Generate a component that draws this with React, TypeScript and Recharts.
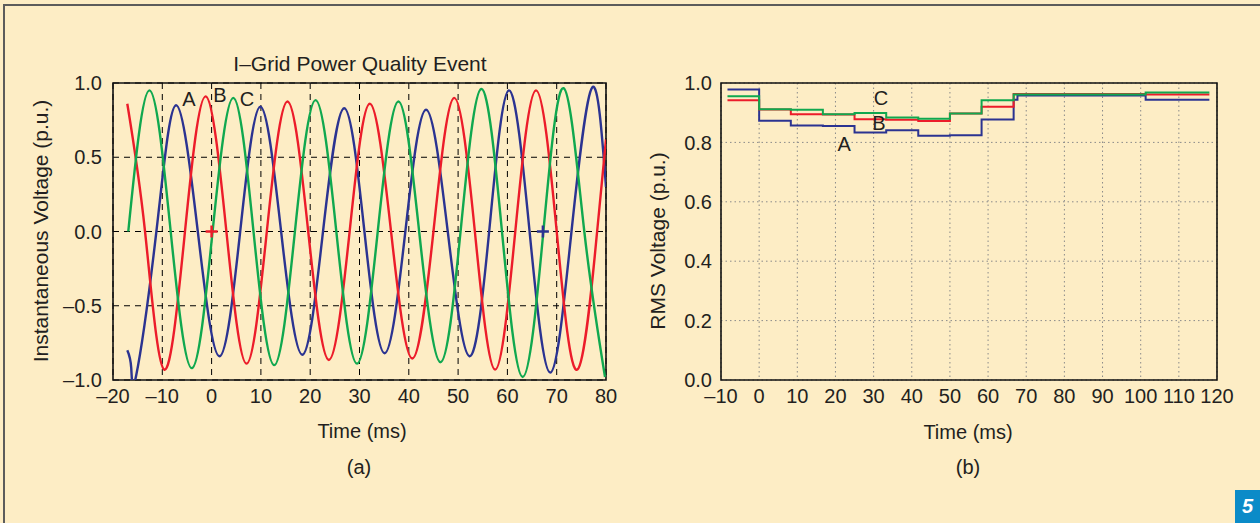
import React from 'react';
import {
  ComposedChart,
  LineChart,
  Line,
  XAxis,
  YAxis,
  CartesianGrid,
  ReferenceArea,
  ReferenceDot,
} from 'recharts';

// ---------- Panel (a): instantaneous voltage, read at peaks / zero crossings / troughs ----------
const phaseA_inst = [
  { t: -17.1, v: -0.8 }, { t: -16.3, v: -0.92 }, { t: -15.3, v: -0.97 }, { t: -11.2, v: 0 },
  { t: -7.2, v: 0.85 }, { t: -2.8, v: 0 }, { t: 1.6, v: -0.84 }, { t: 5.8, v: 0 },
  { t: 9.9, v: 0.84 }, { t: 14.1, v: 0 }, { t: 18.4, v: -0.83 }, { t: 22.6, v: 0 },
  { t: 26.9, v: 0.83 }, { t: 31.0, v: 0 }, { t: 35.1, v: -0.82 }, { t: 39.3, v: 0 },
  { t: 43.5, v: 0.82 }, { t: 47.9, v: 0 }, { t: 52.3, v: -0.84 }, { t: 56.3, v: 0 },
  { t: 60.3, v: 0.95 }, { t: 64.5, v: 0 }, { t: 68.7, v: -0.95 }, { t: 73.0, v: 0 },
  { t: 77.2, v: 0.97 }, { t: 80.0, v: 0.3 },
];
const phaseB_inst = [
  { t: -17.1, v: 0.86 }, { t: -13.5, v: 0 }, { t: -9.6, v: -0.93 }, { t: -5.4, v: 0 },
  { t: -1.2, v: 0.91 }, { t: 3.0, v: 0 }, { t: 7.1, v: -0.89 }, { t: 11.2, v: 0 },
  { t: 15.4, v: 0.875 }, { t: 19.6, v: 0 }, { t: 23.8, v: -0.865 }, { t: 28.0, v: 0 },
  { t: 32.1, v: 0.86 }, { t: 36.4, v: 0 }, { t: 40.7, v: -0.855 }, { t: 45.0, v: 0 },
  { t: 49.2, v: 0.9 }, { t: 53.4, v: 0 }, { t: 57.5, v: -0.93 }, { t: 61.6, v: 0 },
  { t: 65.8, v: 0.95 }, { t: 70.0, v: 0 }, { t: 74.2, v: -0.93 }, { t: 78.2, v: 0 },
  { t: 80.0, v: 0.62 },
];
const phaseC_inst = [
  { t: -16.9, v: 0 }, { t: -12.6, v: 0.95 }, { t: -8.3, v: 0 }, { t: -4.0, v: -0.92 },
  { t: 0.2, v: 0 }, { t: 4.4, v: 0.9 }, { t: 8.5, v: 0 }, { t: 12.7, v: -0.9 },
  { t: 16.9, v: 0 }, { t: 21.1, v: 0.885 }, { t: 25.3, v: 0 }, { t: 29.5, v: -0.89 },
  { t: 33.7, v: 0 }, { t: 37.9, v: 0.875 }, { t: 42.1, v: 0 }, { t: 46.4, v: -0.88 },
  { t: 50.5, v: 0 }, { t: 54.7, v: 0.96 }, { t: 58.9, v: 0 }, { t: 63.1, v: -0.98 },
  { t: 67.3, v: 0 }, { t: 71.4, v: 0.965 }, { t: 75.6, v: 0 }, { t: 79.8, v: -0.98 },
];
const markersA = [{ t: 67.2, v: 0 }];
const markersB = [{ t: 0, v: 0 }];
const phaseLabelsInst = [
  { name: 'A', t: -4.6, v: 0.89 },
  { name: 'B', t: 1.7, v: 0.92 },
  { name: 'C', t: 7.2, v: 0.89 },
];
const instXTicks = [-20, -10, 0, 10, 20, 30, 40, 50, 60, 70, 80];
const instYTicks = [-1, -0.5, 0, 0.5, 1];

// ---------- Panel (b): RMS voltage (step values) ----------
const phaseA_rms = [
  { t: -8.3, v: 0.978 }, { t: 0, v: 0.873 }, { t: 8.3, v: 0.857 }, { t: 16.7, v: 0.855 },
  { t: 25, v: 0.833 }, { t: 33.3, v: 0.841 }, { t: 41.7, v: 0.822 }, { t: 50, v: 0.824 },
  { t: 58.3, v: 0.877 }, { t: 66.7, v: 0.944 }, { t: 67.7, v: 0.958 }, { t: 101.3, v: 0.944 },
  { t: 118, v: 0.944 },
];
const phaseB_rms = [
  { t: -8.3, v: 0.942 }, { t: 0, v: 0.911 }, { t: 8.3, v: 0.895 }, { t: 16.7, v: 0.894 },
  { t: 25, v: 0.878 }, { t: 33.3, v: 0.876 }, { t: 41.7, v: 0.872 }, { t: 50, v: 0.897 },
  { t: 58.3, v: 0.92 }, { t: 66.7, v: 0.963 }, { t: 101.3, v: 0.961 }, { t: 118, v: 0.961 },
];
const phaseC_rms = [
  { t: -8.3, v: 0.955 }, { t: 0, v: 0.912 }, { t: 8.3, v: 0.91 }, { t: 16.7, v: 0.895 },
  { t: 25, v: 0.899 }, { t: 33.3, v: 0.884 }, { t: 41.7, v: 0.88 }, { t: 50, v: 0.897 },
  { t: 58.3, v: 0.942 }, { t: 66.7, v: 0.961 }, { t: 101.3, v: 0.968 }, { t: 118, v: 0.968 },
];
const phaseLabelsRms = [
  { name: 'C', t: 31.9, v: 0.95 },
  { name: 'B', t: 31.4, v: 0.864 },
  { name: 'A', t: 22.3, v: 0.793 },
];
const rmsXTicks = [-10, 0, 10, 20, 30, 40, 50, 60, 70, 80, 90, 100, 110, 120];
const rmsYTicks = [0, 0.2, 0.4, 0.6, 0.8, 1.0];

const BLUE = '#2B3391';
const RED = '#EC1C2A';
const GREEN = '#10A84F';
const BG = '#FDEDC5';
const FONT = '"Liberation Sans", Arial, Helvetica, sans-serif';
const TEXT = '#231F20';
const TICK_FS = 20;

const dash = (s: string) => s.replace('-', '\u2013');
const fmt0 = (v: number) => dash(String(v));
const fmt1 = (v: number) => dash(v.toFixed(1));

const tickStyle = { fontSize: TICK_FS, fill: TEXT, fontFamily: FONT };

const textShape = (txt: string) => (p: any) => (
  <text
    x={p.cx}
    y={p.cy}
    textAnchor="middle"
    dominantBaseline="central"
    fontSize={20}
    fontFamily={FONT}
    fill={TEXT}
  >
    {txt}
  </text>
);

const plusShape = (color: string) => (p: any) => (
  <path
    d={`M${p.cx - 6},${p.cy}H${p.cx + 6}M${p.cx},${p.cy - 6}V${p.cy + 6}`}
    stroke={color}
    strokeWidth={2.5}
    fill="none"
  />
);

const abs = (extra: React.CSSProperties): React.CSSProperties => ({
  position: 'absolute',
  fontFamily: FONT,
  color: TEXT,
  whiteSpace: 'nowrap',
  lineHeight: 1,
  ...extra,
});

export default function App() {
  return (
    <div
      style={{
        position: 'fixed',
        left: 0,
        top: 0,
        width: 1260,
        height: 523,
        background: BG,
        overflow: 'hidden',
      }}
    >
      {/* frame */}
      <div style={{ position: 'absolute', left: 3, top: 4, width: 1257, height: 2, background: '#5c5c5c' }} />
      <div style={{ position: 'absolute', left: 3, top: 4, width: 2, height: 519, background: '#5c5c5c' }} />

      {/* Panel (a) */}
      <div style={{ position: 'absolute', left: 0, top: 0 }}>
        <ComposedChart
          width={620}
          height={523}
          margin={{ top: 83, right: 14, left: 53, bottom: 113 }}
        >
          <CartesianGrid stroke="#000" strokeDasharray="6 5" strokeWidth={1} />
          <XAxis
            type="number"
            dataKey="t"
            domain={[-20, 80]}
            ticks={instXTicks}
            tickFormatter={fmt0}
            allowDataOverflow
            axisLine={false}
            tickLine={false}
            tick={tickStyle}
            tickMargin={3}
            height={30}
            interval={0}
          />
          <YAxis
            type="number"
            dataKey="v"
            domain={[-1, 1]}
            ticks={instYTicks}
            tickFormatter={fmt1}
            allowDataOverflow
            axisLine={false}
            tickLine={false}
            tick={tickStyle}
            tickMargin={5}
            width={60}
            interval={0}
          />
          <ReferenceArea x1={-20} x2={80} y1={-1} y2={1} fill="none" fillOpacity={0} stroke="#111" strokeWidth={1.6} />
          <Line data={phaseA_inst} dataKey="v" type="natural" stroke={BLUE} strokeWidth={2.4} dot={false} isAnimationActive={false} />
          <Line data={phaseB_inst} dataKey="v" type="natural" stroke={RED} strokeWidth={2.4} dot={false} isAnimationActive={false} />
          <Line data={phaseC_inst} dataKey="v" type="natural" stroke={GREEN} strokeWidth={2.4} dot={false} isAnimationActive={false} />
          {markersB.map((m, i) => (
            <ReferenceDot key={'mb' + i} x={m.t} y={m.v} shape={plusShape(RED)} />
          ))}
          {markersA.map((m, i) => (
            <ReferenceDot key={'ma' + i} x={m.t} y={m.v} shape={plusShape(BLUE)} />
          ))}
          {phaseLabelsInst.map((l) => (
            <ReferenceDot key={'li' + l.name} x={l.t} y={l.v} shape={textShape(l.name)} />
          ))}
        </ComposedChart>
      </div>

      {/* Panel (b) */}
      <div style={{ position: 'absolute', left: 640, top: 0 }}>
        <LineChart
          width={620}
          height={523}
          margin={{ top: 83, right: 43, left: 21, bottom: 113 }}
        >
          <CartesianGrid stroke="#8a8a8a" strokeDasharray="1.5 3" strokeWidth={1} />
          <XAxis
            type="number"
            dataKey="t"
            domain={[-10, 120]}
            ticks={rmsXTicks}
            tickFormatter={fmt0}
            allowDataOverflow
            axisLine={false}
            tickLine={false}
            tick={tickStyle}
            tickMargin={3}
            height={30}
            interval={0}
          />
          <YAxis
            type="number"
            dataKey="v"
            domain={[0, 1]}
            ticks={rmsYTicks}
            tickFormatter={fmt1}
            allowDataOverflow
            axisLine={false}
            tickLine={false}
            tick={tickStyle}
            tickMargin={3}
            width={60}
            interval={0}
          />
          <ReferenceArea x1={-10} x2={120} y1={0} y2={1} fill="none" fillOpacity={0} stroke="#111" strokeWidth={1.6} />
          <Line data={phaseA_rms} dataKey="v" type="stepAfter" stroke={BLUE} strokeWidth={2} dot={false} isAnimationActive={false} />
          <Line data={phaseB_rms} dataKey="v" type="stepAfter" stroke={RED} strokeWidth={2} dot={false} isAnimationActive={false} />
          <Line data={phaseC_rms} dataKey="v" type="stepAfter" stroke={GREEN} strokeWidth={2} dot={false} isAnimationActive={false} />
          {phaseLabelsRms.map((l) => (
            <ReferenceDot key={'lr' + l.name} x={l.t} y={l.v} shape={textShape(l.name)} />
          ))}
        </LineChart>
      </div>

      {/* Titles and axis labels */}
      <div style={abs({ left: 360, top: 63, transform: 'translate(-50%,-50%)', fontSize: 21 })}>
        I–Grid Power Quality Event
      </div>
      <div style={abs({ left: 40, top: 231, transform: 'translate(-50%,-50%) rotate(-90deg)', fontSize: 21 })}>
        Instantaneous Voltage (p.u.)
      </div>
      <div style={abs({ left: 362, top: 431, transform: 'translate(-50%,-50%)', fontSize: 20 })}>
        Time (ms)
      </div>
      <div style={abs({ left: 359, top: 467, transform: 'translate(-50%,-50%)', fontSize: 20 })}>
        (a)
      </div>
      <div style={abs({ left: 657, top: 241, transform: 'translate(-50%,-50%) rotate(-90deg)', fontSize: 21 })}>
        RMS Voltage (p.u.)
      </div>
      <div style={abs({ left: 968, top: 432, transform: 'translate(-50%,-50%)', fontSize: 20 })}>
        Time (ms)
      </div>
      <div style={abs({ left: 968, top: 467, transform: 'translate(-50%,-50%)', fontSize: 20 })}>
        (b)
      </div>

      {/* figure number badge */}
      <div
        style={abs({
          left: 1235,
          top: 490,
          width: 25,
          height: 33,
          background: '#0B8BC8',
          color: '#fff',
          fontWeight: 'bold',
          fontStyle: 'italic',
          fontSize: 20,
          lineHeight: '33px',
          textAlign: 'center',
        })}
      >
        5
      </div>
    </div>
  );
}
